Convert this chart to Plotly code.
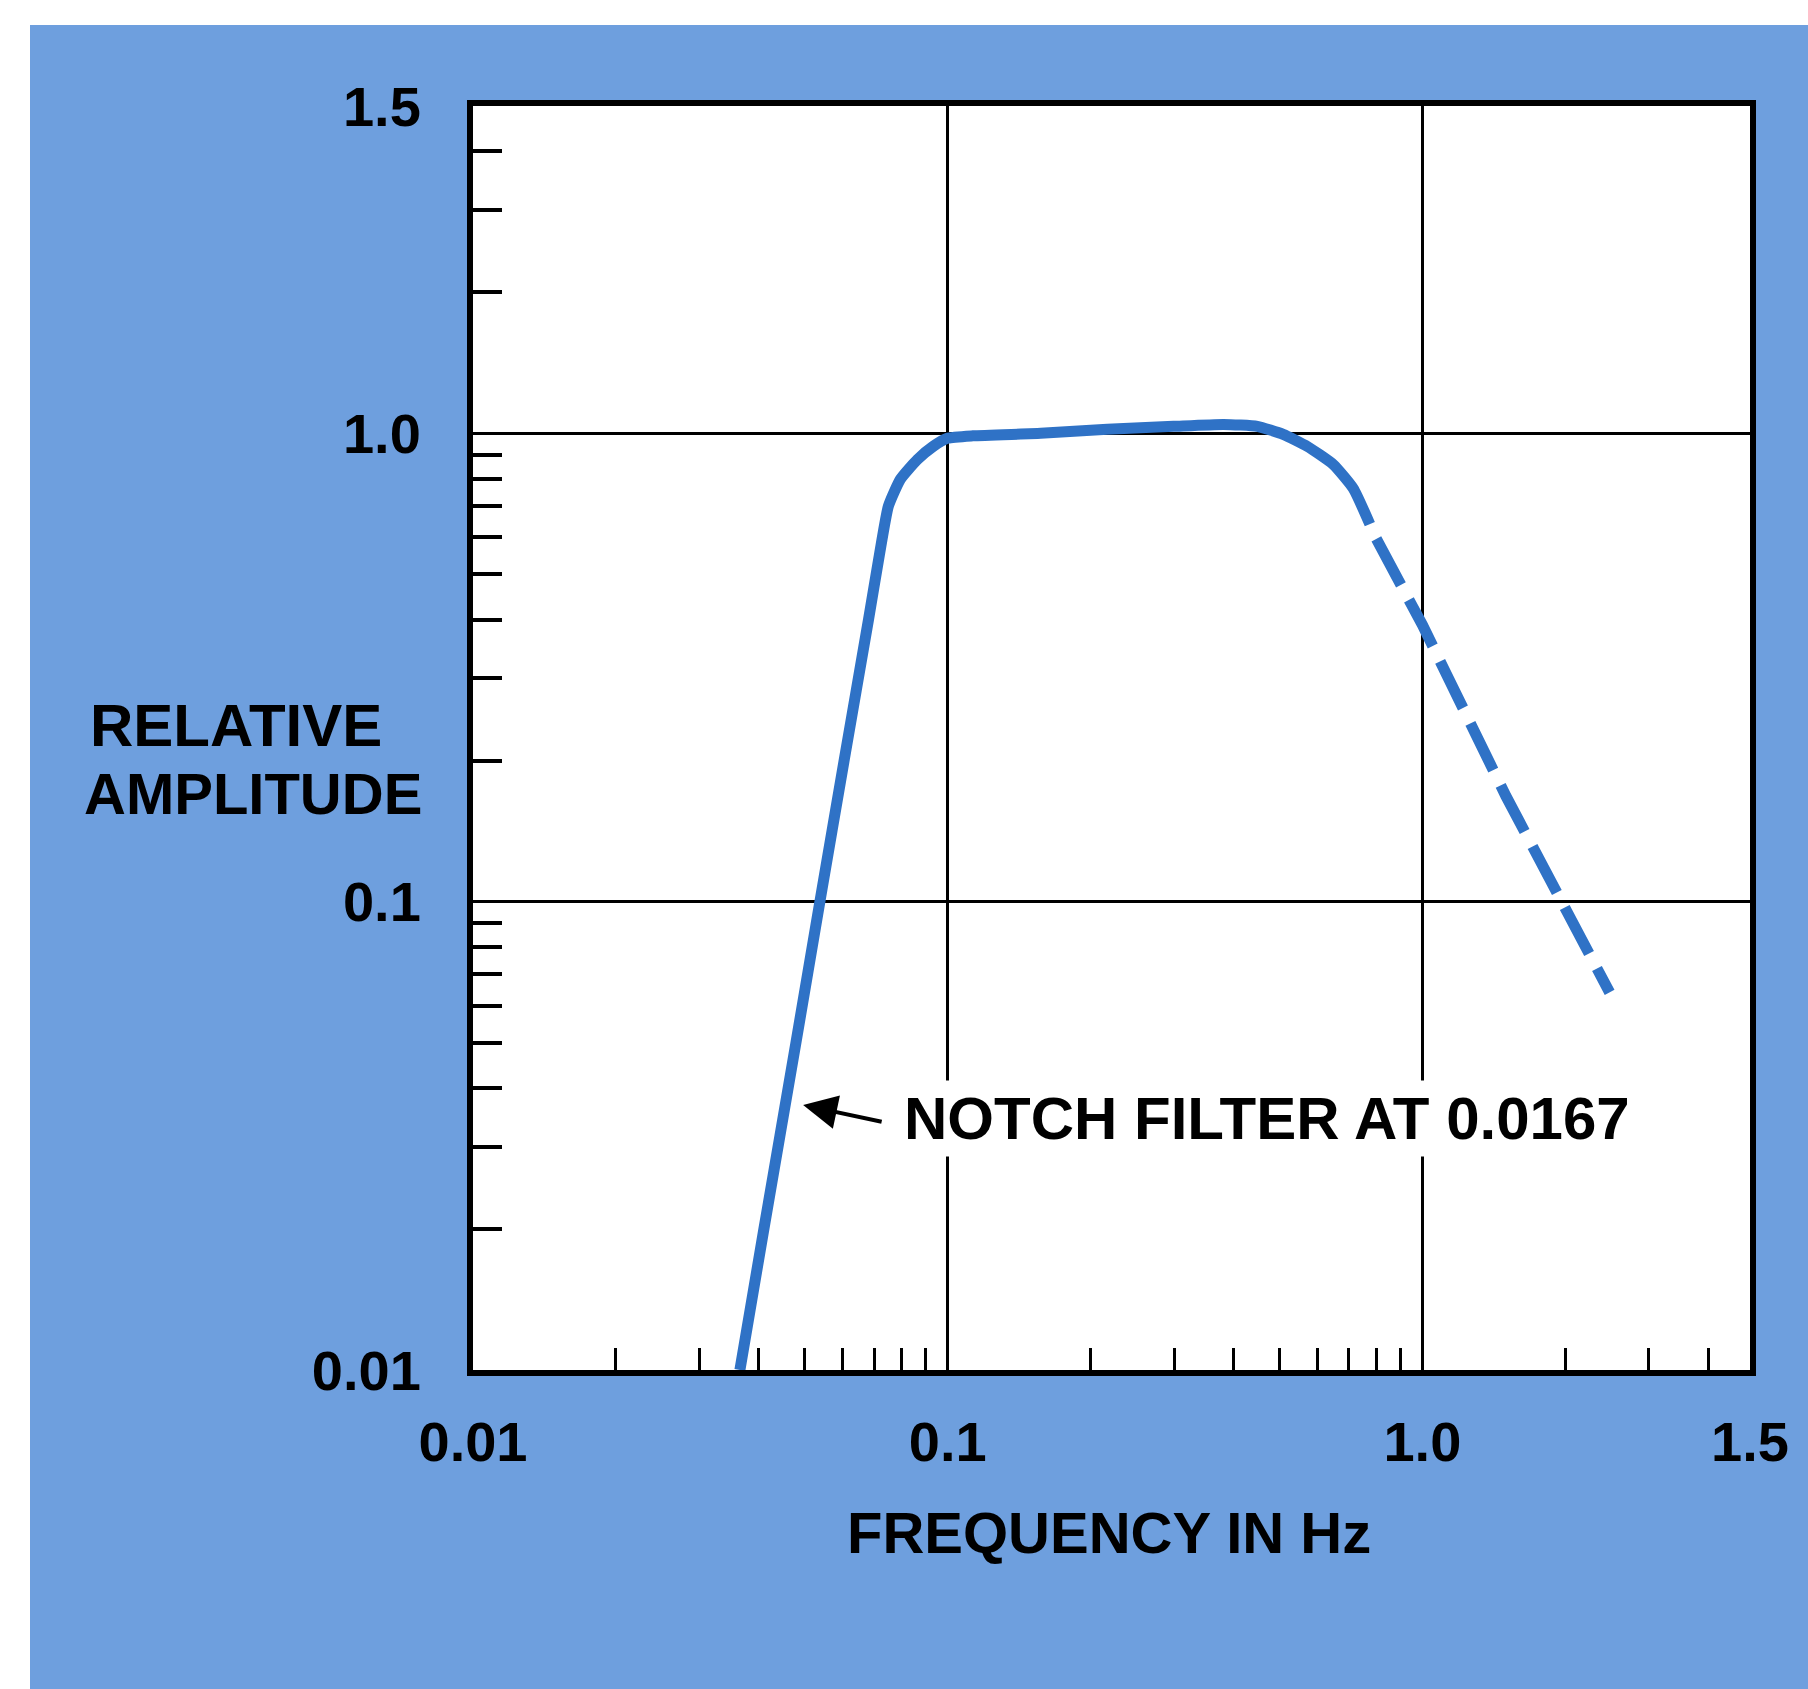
import math
import plotly.graph_objects as go

# ---------------- data ----------------
solid_freq = [0.0365, 0.0410, 0.0479, 0.0538, 0.0605, 0.0681, 0.0718, 0.0750,
              0.0795, 0.0863, 0.0932, 0.0998, 0.113, 0.157, 0.217, 0.299, 0.381,
              0.449, 0.509, 0.572, 0.649, 0.715, 0.775]
solid_amp = [0.0100, 0.0200, 0.0500, 0.100, 0.200, 0.400, 0.550, 0.699,
             0.798, 0.879, 0.938, 0.976, 0.988, 1.00, 1.02, 1.035, 1.045,
             1.035, 0.995, 0.938, 0.858, 0.763, 0.640]

dashed_freq = [0.80, 1.0, 1.5, 1.95, 2.48]
dashed_amp = [0.595, 0.39, 0.168, 0.100, 0.064]

X_MIN, X_MAX = 0.01, 4.9
Y_MIN, Y_MAX = 0.01, 5.0

x_tick_vals = [0.01, 0.1, 1.0, X_MAX]
x_tick_text = ["0.01", "0.1", "1.0", "1.5"]
y_tick_vals = [0.01, 0.1, 1.0, Y_MAX]
y_tick_text = ["0.01", "0.1", "1.0", "1.5"]

x_minor = [0.02, 0.03, 0.04, 0.05, 0.06, 0.07, 0.08, 0.09,
           0.2, 0.3, 0.4, 0.5, 0.6, 0.7, 0.8, 0.9,
           2, 3, 4]
y_minor = [0.02, 0.03, 0.04, 0.05, 0.06, 0.07, 0.08, 0.09,
           0.2, 0.3, 0.4, 0.5, 0.6, 0.7, 0.8, 0.9,
           2, 3, 4]

note_text = "NOTCH FILTER AT 0.0167"
note_arrow_point = (0.0496, 0.0368)
note_text_point = (0.0788, 0.0345)

# ---------------- layout geometry ----------------
W, H = 1808, 1689
ML, MR, MT, MB = 473, 58, 106, 319
PW, PH = W - ML - MR, H - MT - MB

def px_x(px):
    return (px - ML) / PW

def px_y(py):
    return (H - MB - py) / PH

BG_BLUE = "rgb(110,159,222)"
CURVE = "#2f72c6"
FONT = "Liberation Sans, Arial, Helvetica, sans-serif"

fig = go.Figure()
fig.add_trace(go.Scatter(
    x=solid_freq, y=solid_amp, mode="lines",
    line=dict(color=CURVE, width=11, shape="spline", smoothing=0.5),
    hoverinfo="skip", showlegend=False))
fig.add_trace(go.Scatter(
    x=dashed_freq, y=dashed_amp, mode="lines",
    line=dict(color=CURVE, width=11, dash="52px,17px"),
    hoverinfo="skip", showlegend=False))

tickfont = dict(family=FONT, size=56, color="black", weight=700)

fig.update_xaxes(
    type="log", range=[math.log10(X_MIN), math.log10(X_MAX)],
    showline=True, linecolor="black", linewidth=6, mirror=True,
    tickmode="array", tickvals=x_tick_vals, ticktext=x_tick_text,
    ticks="", tickfont=tickfont, ticklabelstandoff=18,
    showgrid=True, gridcolor="black", gridwidth=2.5, zeroline=False,
    minor=dict(tickmode="array", tickvals=x_minor, ticks="inside",
               ticklen=22, tickwidth=3, tickcolor="black", showgrid=False),
)
fig.update_yaxes(
    type="log", range=[math.log10(Y_MIN), math.log10(Y_MAX)],
    showline=True, linecolor="black", linewidth=6, mirror=True,
    tickmode="array", tickvals=y_tick_vals, ticktext=y_tick_text,
    ticks="", tickfont=tickfont, ticklabelstandoff=35,
    showgrid=True, gridcolor="black", gridwidth=2.5, zeroline=False,
    minor=dict(tickmode="array", tickvals=y_minor, ticks="inside",
               ticklen=29, tickwidth=3.5, tickcolor="black", showgrid=False),
)

label_font = dict(family=FONT, size=58, color="black", weight=700)

annotations = [
    dict(text="RELATIVE", x=px_x(88), y=px_y(726), xref="paper", yref="paper",
         xanchor="left", yanchor="middle", showarrow=False,
         font=dict(family=FONT, size=60, color="black", weight=700)),
    dict(text="AMPLITUDE", x=px_x(82), y=px_y(793), xref="paper", yref="paper",
         xanchor="left", yanchor="middle", showarrow=False, font=label_font),
    dict(text="FREQUENCY IN Hz", x=px_x(1109), y=px_y(1532), xref="paper", yref="paper",
         xanchor="center", yanchor="middle", showarrow=False, font=label_font),
    dict(text="", x=math.log10(note_arrow_point[0]), y=math.log10(note_arrow_point[1]),
         xref="x", yref="y", showarrow=True, ax=80, ay=17,
         arrowhead=2, arrowsize=1.7, arrowwidth=4, arrowcolor="black"),
    dict(text=note_text, x=math.log10(note_text_point[0]), y=math.log10(note_text_point[1]),
         xref="x", yref="y", xanchor="left", yanchor="middle", showarrow=False,
         bgcolor="white", borderpad=4,
         font=dict(family=FONT, size=60, color="black", weight=700)),
]

shapes = [
    # white scan margins (left and top)
    dict(type="rect", xref="paper", yref="paper", layer="below",
         x0=px_x(0), x1=px_x(30), y0=px_y(H), y1=px_y(0),
         fillcolor="white", line=dict(width=0)),
    dict(type="rect", xref="paper", yref="paper", layer="below",
         x0=px_x(0), x1=px_x(W), y0=px_y(25), y1=px_y(0),
         fillcolor="white", line=dict(width=0)),
]

fig.update_layout(
    width=W, height=H, autosize=False,
    margin=dict(l=ML, r=MR, t=MT, b=MB, pad=0),
    paper_bgcolor=BG_BLUE, plot_bgcolor="white",
    annotations=annotations, shapes=shapes,
    showlegend=False,
)

fig.write_html("out.html")
